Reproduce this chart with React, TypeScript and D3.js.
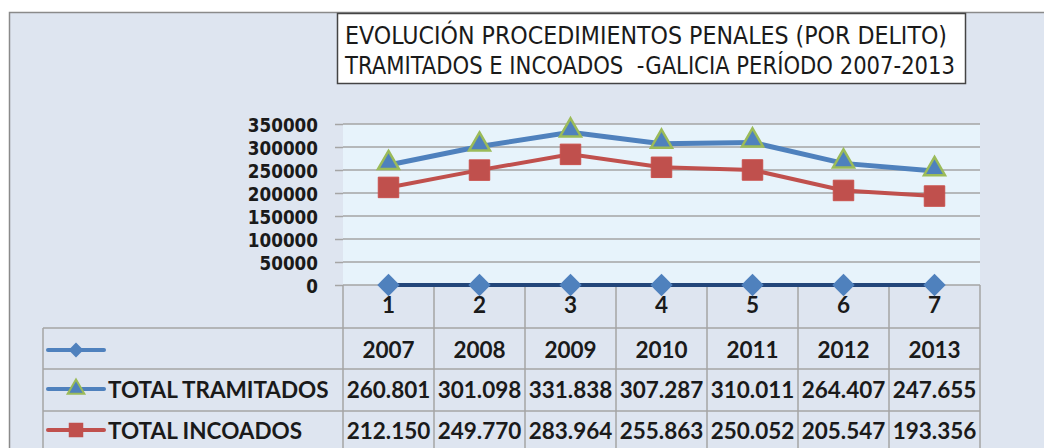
import { useEffect, useRef } from "react";
import * as d3 from "d3";

const categories = ["1", "2", "3", "4", "5", "6", "7"];
const years = ["2007", "2008", "2009", "2010", "2011", "2012", "2013"];
const serieVacia = [0, 0, 0, 0, 0, 0, 0];
const totalTramitados = [260801, 301098, 331838, 307287, 310011, 264407, 247655];
const totalIncoados = [212150, 249770, 283964, 255863, 250052, 205547, 193356];
const yTicks = [0, 50000, 100000, 150000, 200000, 250000, 300000, 350000];
const titleLines = [
  "EVOLUCIÓN PROCEDIMIENTOS PENALES (POR DELITO)",
  "TRAMITADOS E INCOADOS  -GALICIA PERÍODO 2007-2013",
];

const W = 1044;
const H = 448;
const NARROW = "'Liberation Sans Narrow', 'Arial Narrow', 'DejaVu Sans Condensed', sans-serif";
const TABLE_FONT = "Lato, 'Open Sans', sans-serif";

function drawChart(svgEl: SVGSVGElement) {
  const svg = d3.select(svgEl);
  svg.selectAll("*").remove();

  const blue = "#4f81bd";
  const red = "#c0504d";
  const green = "#9bbb59";
  const navy = "#23467a";
  const grid = "#a5a5a5";

  // page + chart area
  svg.append("rect").attr("width", W).attr("height", H).attr("fill", "#fff");
  svg
    .append("rect")
    .attr("x", 9.5)
    .attr("y", 12.5)
    .attr("width", W + 10)
    .attr("height", H)
    .attr("fill", "#dee5f0")
    .attr("stroke", "#8a8a8a")
    .attr("stroke-width", 1.5);

  const x = d3.scaleBand().domain(categories).range([343, 980]);
  const y = d3.scaleLinear().domain([0, 350000]).range([285, 124]);
  const cx = (i: number) => x(categories[i])! + x.bandwidth() / 2;

  // plot area
  svg
    .append("rect")
    .attr("x", 343)
    .attr("y", 124)
    .attr("width", 637)
    .attr("height", 161)
    .attr("fill", "#e7f3fb");

  svg
    .append("g")
    .selectAll("line")
    .data(yTicks)
    .join("line")
    .attr("x1", 343)
    .attr("x2", 980)
    .attr("y1", (d) => y(d))
    .attr("y2", (d) => y(d))
    .attr("stroke", grid)
    .attr("stroke-width", 1.5);

  // y axis
  const yAxis = svg
    .append("g")
    .attr("transform", "translate(343,0)")
    .call(
      d3
        .axisLeft(y)
        .tickValues(yTicks)
        .tickSize(8)
        .tickPadding(17)
        .tickFormat(d3.format("d")),
    );
  yAxis.select(".domain").remove();
  yAxis.selectAll("line").attr("stroke", grid).attr("stroke-width", 1.5);
  yAxis
    .selectAll<SVGTextElement, number>("text")
    .attr("font-family", NARROW)
    .attr("font-weight", "bold")
    .attr("font-size", 20)
    .attr("fill", "#1a1a1a")
    .attr("dy", "0.38em")
    .attr("textLength", (d) => String(d).length * 11.7)
    .attr("lengthAdjust", "spacingAndGlyphs");

  // data table grid
  const tbl = svg.append("g").attr("stroke", grid).attr("stroke-width", 1.5);
  const bounds = categories.map((c) => x(c)!).concat([980]);
  tbl
    .selectAll("line.v")
    .data(bounds)
    .join("line")
    .attr("x1", (d) => d)
    .attr("x2", (d) => d)
    .attr("y1", 285)
    .attr("y2", H);
  tbl.append("line").attr("x1", 43).attr("x2", 43).attr("y1", 328).attr("y2", H);
  tbl
    .selectAll("line.h")
    .data([328, 369, 411])
    .join("line")
    .attr("x1", 43)
    .attr("x2", 980)
    .attr("y1", (d) => d)
    .attr("y2", (d) => d);

  // category labels
  svg
    .append("g")
    .selectAll("text")
    .data(categories)
    .join("text")
    .attr("x", (_, i) => cx(i))
    .attr("y", 313)
    .attr("text-anchor", "middle")
    .attr("font-family", TABLE_FONT)
    .attr("font-weight", "bold")
    .attr("font-size", 22.5)
    .attr("fill", "#1a1a1a")
    .text((d) => d);

  const fmt = d3.formatLocale({
    decimal: ",",
    thousands: ".",
    grouping: [3],
    currency: ["", "€"],
  }).format(",d");

  const rows = [
    { label: "", values: years, base: 358 },
    { label: "TOTAL TRAMITADOS", values: totalTramitados.map(fmt), base: 398 },
    { label: "TOTAL INCOADOS", values: totalIncoados.map(fmt), base: 439 },
  ];
  rows.forEach((r) => {
    const g = svg.append("g");
    g.selectAll("text")
      .data(r.values)
      .join("text")
      .attr("x", (_, i) => cx(i))
      .attr("y", r.base)
      .attr("text-anchor", "middle")
      .attr("font-family", TABLE_FONT)
      .attr("font-weight", "bold")
      .attr("font-size", 22.5)
      .attr("fill", "#1a1a1a")
      .text((d) => d);
    if (r.label) {
      g.append("text")
        .attr("x", 108)
        .attr("y", r.base)
        .attr("font-family", TABLE_FONT)
        .attr("font-weight", "bold")
        .attr("font-size", 22.5)
        .attr("fill", "#1a1a1a")
        .text(r.label);
    }
  });

  const diamond = d3.symbol(d3.symbolDiamond2);
  const triangle = d3.symbol(d3.symbolTriangle);
  const square = d3.symbol(d3.symbolSquare);

  // legend keys inside table
  const keys = [
    { y: 350, color: blue, sym: diamond.size(140)(), fill: blue, stroke: "none" },
    { y: 389, color: blue, sym: triangle.size(120)(), fill: blue, stroke: green },
    { y: 430, color: red, sym: square.size(210)(), fill: red, stroke: "none" },
  ];
  keys.forEach((k) => {
    svg
      .append("line")
      .attr("x1", 48)
      .attr("x2", 104)
      .attr("y1", k.y)
      .attr("y2", k.y)
      .attr("stroke", k.color)
      .attr("stroke-width", 4)
      .attr("stroke-linecap", "round");
    svg
      .append("path")
      .attr("d", k.sym)
      .attr("transform", `translate(76,${k.y})`)
      .attr("fill", k.fill)
      .attr("stroke", k.stroke)
      .attr("stroke-width", 2);
  });

  const line = d3
    .line<number>()
    .x((_, i) => cx(i))
    .y((d) => y(d));

  // series: empty, tramitados, incoados
  svg
    .append("path")
    .datum(serieVacia)
    .attr("d", line)
    .attr("fill", "none")
    .attr("stroke", navy)
    .attr("stroke-width", 4);
  svg
    .append("g")
    .selectAll("path")
    .data(serieVacia)
    .join("path")
    .attr("d", diamond.size(320)())
    .attr("transform", (d, i) => `translate(${cx(i)},${y(d)})`)
    .attr("fill", blue);

  svg
    .append("path")
    .datum(totalIncoados)
    .attr("d", line)
    .attr("fill", "none")
    .attr("stroke", red)
    .attr("stroke-width", 4);
  svg
    .append("g")
    .selectAll("path")
    .data(totalIncoados)
    .join("path")
    .attr("d", square.size(420)())
    .attr("transform", (d, i) => `translate(${cx(i)},${y(d)})`)
    .attr("fill", red)
    .attr("stroke", "#c9504c")
    .attr("stroke-width", 1);

  svg
    .append("path")
    .datum(totalTramitados)
    .attr("d", line)
    .attr("fill", "none")
    .attr("stroke", blue)
    .attr("stroke-width", 5);
  svg
    .append("g")
    .selectAll("path")
    .data(totalTramitados)
    .join("path")
    .attr("d", triangle.size(190)())
    .attr("transform", (d, i) => `translate(${cx(i)},${y(d) - 2})`)
    .attr("fill", blue)
    .attr("stroke", green)
    .attr("stroke-width", 2.5)
    .attr("stroke-linejoin", "miter");

  // title box
  svg
    .append("rect")
    .attr("x", 337.5)
    .attr("y", 13.5)
    .attr("width", 628)
    .attr("height", 70)
    .attr("fill", "#fff")
    .attr("stroke", "#444")
    .attr("stroke-width", 1.5);
  const titleLens = [602, 610];
  svg
    .append("g")
    .selectAll("text")
    .data(titleLines)
    .join("text")
    .attr("x", (_, i) => 345)
    .attr("y", (_, i) => 44 + i * 30)
    .attr("font-family", NARROW)
    .attr("font-size", 25)
    .attr("fill", "#1a1a1a")
    .attr("textLength", (_, i) => titleLens[i])
    .attr("lengthAdjust", "spacingAndGlyphs")
    .attr("xml:space", "preserve")
    .style("white-space", "pre")
    .text((d) => d);
}

export default function App() {
  const ref = useRef<SVGSVGElement>(null);
  useEffect(() => {
    if (ref.current) drawChart(ref.current);
  }, []);
  return (
    <svg
      ref={ref}
      width={W}
      height={H}
      style={{ position: "absolute", left: 0, top: 0, display: "block" }}
    />
  );
}
